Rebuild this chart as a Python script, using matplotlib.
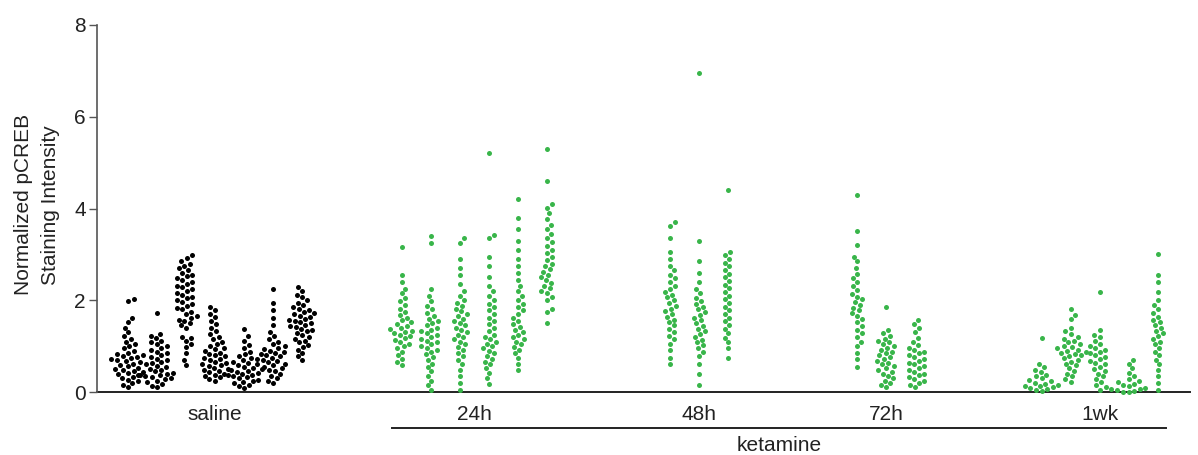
import numpy as np
import matplotlib
matplotlib.use("Agg")
import matplotlib.pyplot as plt
import matplotlib.transforms as mtransforms

plt.rcParams['font.family'] = ['Liberation Sans', 'DejaVu Sans']

# ---- data (one list per animal column) ----
groups = ['saline', '24h', '48h', '72h', '1wk']
group_label = 'ketamine'

saline = [
    [0.10, 0.15, 0.19, 0.23, 0.27, 0.30, 0.33, 0.36, 0.39, 0.42, 0.44, 0.46, 0.48, 0.50,
     0.53, 0.56, 0.59, 0.62, 0.65, 0.68, 0.70, 0.72, 0.74, 0.76, 0.78, 0.80, 0.83, 0.86, 0.90,
     0.95, 1.00, 1.05, 1.10, 1.15, 1.22, 1.30, 1.40, 1.52, 1.62, 1.98, 2.02],
    [0.10, 0.14, 0.18, 0.22, 0.25, 0.28, 0.30, 0.32, 0.34, 0.36, 0.38, 0.40, 0.42, 0.45, 0.48,
     0.51, 0.54, 0.57, 0.60, 0.63, 0.66, 0.70, 0.73, 0.76, 0.80, 0.84, 0.88, 0.92,
     0.96, 1.00, 1.04, 1.08, 1.12, 1.17, 1.22, 1.26, 1.72],
    [0.58, 0.70, 0.85, 0.98, 1.05, 1.12, 1.18, 1.20, 1.40, 1.45, 1.50, 1.55, 1.58, 1.62, 1.66, 1.70,
     1.75, 1.80, 1.84, 1.88, 1.92, 1.96, 2.00, 2.04, 2.08, 2.12, 2.16, 2.20, 2.24, 2.28, 2.32, 2.36,
     2.40, 2.44, 2.48, 2.52, 2.56, 2.60, 2.65, 2.70, 2.75, 2.80, 2.86, 2.92, 2.98],
    [0.25, 0.28, 0.32, 0.35, 0.38, 0.40, 0.43, 0.46, 0.48, 0.50, 0.53, 0.56, 0.58, 0.60, 0.63, 0.66,
     0.70, 0.72, 0.75, 0.78, 0.80, 0.83, 0.86, 0.90, 0.93, 0.96, 1.00, 1.05, 1.10, 1.15, 1.20, 1.26,
     1.32, 1.40, 1.48, 1.55, 1.63, 1.70, 1.78, 1.85],
    [0.08, 0.12, 0.16, 0.20, 0.22, 0.25, 0.27, 0.30, 0.32, 0.34, 0.36, 0.38, 0.40, 0.42, 0.44, 0.46,
     0.48, 0.50, 0.52, 0.55, 0.58, 0.60, 0.63, 0.66, 0.70, 0.74, 0.78, 0.82, 0.88, 0.95, 1.02, 1.12,
     1.22, 1.38],
    [0.20, 0.25, 0.30, 0.35, 0.40, 0.45, 0.48, 0.52, 0.55, 0.58, 0.62, 0.65, 0.68, 0.70, 0.72, 0.75,
     0.78, 0.80, 0.82, 0.85, 0.88, 0.90, 0.93, 0.96, 1.00, 1.05, 1.10, 1.15, 1.22, 1.30, 1.45, 1.62,
     1.78, 1.95, 2.25],
    [0.70, 0.78, 0.85, 0.92, 0.98, 1.02, 1.08, 1.12, 1.16, 1.20, 1.24, 1.28, 1.32, 1.35, 1.38, 1.41,
     1.44, 1.47, 1.50, 1.52, 1.55, 1.58, 1.60, 1.63, 1.66, 1.69, 1.72, 1.75, 1.78, 1.82, 1.86, 1.90,
     1.95, 2.00, 2.06, 2.12, 2.20, 2.28],
]

ket_24h = [
    [0.58, 0.65, 0.72, 0.80, 0.88, 0.95, 1.00, 1.05, 1.10, 1.14, 1.18, 1.22, 1.25, 1.28, 1.31, 1.34,
     1.37, 1.40, 1.44, 1.48, 1.52, 1.56, 1.62, 1.68, 1.75, 1.82, 1.90, 1.98, 2.05, 2.15, 2.25, 2.40,
     2.55, 3.15],
    [0.05, 0.15, 0.25, 0.35, 0.45, 0.55, 0.62, 0.70, 0.76, 0.82, 0.88, 0.92, 0.96, 1.00, 1.04, 1.08,
     1.12, 1.16, 1.20, 1.24, 1.28, 1.32, 1.36, 1.40, 1.45, 1.50, 1.55, 1.60, 1.66, 1.72, 1.80, 1.88,
     1.98, 2.10, 2.25, 3.25, 3.40],
    [0.05, 0.20, 0.35, 0.48, 0.60, 0.70, 0.78, 0.85, 0.92, 0.98, 1.04, 1.10, 1.15, 1.20, 1.25, 1.30,
     1.35, 1.40, 1.45, 1.50, 1.55, 1.60, 1.65, 1.70, 1.76, 1.82, 1.88, 1.94, 2.00, 2.10, 2.20, 2.35,
     2.55, 2.70, 2.90, 3.25, 3.35],
    [0.18, 0.30, 0.42, 0.52, 0.60, 0.66, 0.72, 0.78, 0.84, 0.90, 0.95, 1.00, 1.05, 1.10, 1.15, 1.20,
     1.25, 1.32, 1.40, 1.48, 1.55, 1.62, 1.70, 1.78, 1.85, 1.92, 2.00, 2.10, 2.20, 2.32, 2.50, 2.75,
     2.95, 3.35, 3.42, 5.22],
    [0.48, 0.62, 0.75, 0.85, 0.92, 0.98, 1.04, 1.10, 1.15, 1.20, 1.25, 1.30, 1.36, 1.42, 1.48, 1.55,
     1.62, 1.70, 1.78, 1.85, 1.92, 2.00, 2.10, 2.20, 2.32, 2.45, 2.60, 2.75, 2.90, 3.10, 3.30, 3.55,
     3.80, 4.20],
    [1.50, 1.75, 1.82, 2.00, 2.08, 2.15, 2.20, 2.26, 2.32, 2.38, 2.44, 2.50, 2.56, 2.62, 2.68, 2.74,
     2.80, 2.88, 2.95, 3.02, 3.10, 3.18, 3.26, 3.35, 3.45, 3.55, 3.65, 3.78, 3.90, 4.02, 4.10, 4.60,
     5.30],
]

ket_48h = [
    [0.60, 0.75, 0.92, 1.05, 1.15, 1.22, 1.30, 1.38, 1.45, 1.52, 1.58, 1.64, 1.70, 1.76, 1.82, 1.88,
     1.94, 2.00, 2.06, 2.12, 2.18, 2.25, 2.32, 2.40, 2.48, 2.56, 2.65, 2.75, 2.90, 3.05, 3.35, 3.62,
     3.70],
    [0.15, 0.40, 0.62, 0.78, 0.88, 0.96, 1.02, 1.08, 1.14, 1.20, 1.26, 1.32, 1.38, 1.44, 1.50, 1.56,
     1.62, 1.68, 1.74, 1.80, 1.86, 1.92, 1.98, 2.05, 2.15, 2.25, 2.40, 2.60, 2.85, 3.30, 6.95],
    [0.75, 0.95, 1.08, 1.18, 1.28, 1.38, 1.46, 1.54, 1.62, 1.70, 1.78, 1.86, 1.94, 2.02, 2.10, 2.18,
     2.26, 2.34, 2.42, 2.50, 2.58, 2.66, 2.74, 2.82, 2.90, 2.98, 3.05, 4.40],
]

ket_72h = [
    [0.55, 0.72, 0.85, 1.00, 1.10, 1.20, 1.28, 1.36, 1.44, 1.52, 1.60, 1.66, 1.72, 1.78, 1.84, 1.90,
     1.96, 2.02, 2.08, 2.14, 2.22, 2.30, 2.40, 2.48, 2.58, 2.70, 2.85, 2.95, 3.20, 3.50, 4.30],
    [0.10, 0.15, 0.20, 0.25, 0.30, 0.35, 0.40, 0.44, 0.48, 0.52, 0.56, 0.60, 0.64, 0.68, 0.72, 0.76,
     0.80, 0.84, 0.88, 0.92, 0.96, 1.00, 1.04, 1.08, 1.12, 1.16, 1.22, 1.28, 1.35, 1.85],
    [0.10, 0.15, 0.20, 0.24, 0.28, 0.32, 0.36, 0.40, 0.44, 0.48, 0.52, 0.56, 0.60, 0.64, 0.68, 0.72,
     0.76, 0.80, 0.84, 0.88, 0.92, 0.96, 1.02, 1.10, 1.18, 1.30, 1.40, 1.48, 1.58],
]

ket_1wk = [
    [0.02, 0.04, 0.06, 0.08, 0.10, 0.12, 0.14, 0.16, 0.18, 0.20, 0.23, 0.26, 0.30, 0.34,
     0.38, 0.43, 0.48, 0.54, 0.62, 1.18],
    [0.22, 0.28, 0.34, 0.40, 0.46, 0.52, 0.58, 0.62, 0.66, 0.70, 0.74, 0.78, 0.80, 0.82, 0.85, 0.88,
     0.90, 0.92, 0.95, 0.98, 1.00, 1.04, 1.08, 1.12, 1.16, 1.20, 1.26, 1.32, 1.40, 1.60, 1.68, 1.80],
    [0.05, 0.15, 0.22, 0.28, 0.34, 0.40, 0.45, 0.50, 0.55, 0.60, 0.64, 0.68, 0.72, 0.76, 0.80, 0.84,
     0.88, 0.92, 0.96, 1.00, 1.05, 1.12, 1.20, 1.25, 1.35, 2.18],
    [0.00, 0.01, 0.03, 0.04, 0.06, 0.07, 0.09, 0.11, 0.13, 0.15, 0.18, 0.21, 0.24, 0.28,
     0.34, 0.42, 0.52, 0.62, 0.70],
    [0.05, 0.20, 0.35, 0.48, 0.60, 0.70, 0.80, 0.88, 0.96, 1.04, 1.10, 1.16, 1.22, 1.28, 1.34, 1.40,
     1.46, 1.52, 1.58, 1.64, 1.72, 1.80, 1.90, 2.00, 2.18, 2.40, 2.55, 3.00],
]

all_groups = [saline, ket_24h, ket_48h, ket_72h, ket_1wk]

# ---- layout ----
GROUP_START = [0, 9.45, 18.7, 25.15, 31.5]   # column units
COLORS = ['black', '#39b54a', '#39b54a', '#39b54a', '#39b54a']
PX_X = 29.0    # pixels per column unit
PX_Y = 45.9    # pixels per y unit
DOT = 5.8      # collision distance in pixels


def swarm(values, d=DOT):
    """simple beeswarm: returns x offsets in pixels"""
    vals = np.asarray(values)
    order = np.argsort(vals)
    placed = []
    offs = np.zeros(len(vals))
    for k, i in enumerate(order):
        y = vals[i] * PX_Y
        near = [(px, py) for px, py in placed if abs(py - y) < d]
        cands = [0.0]
        for px, py in near:
            dx = np.sqrt(d * d - (py - y) ** 2)
            cands += [px - dx, px + dx]
        # alternate which side wins a tie so columns stay centred
        sgn = 1 if k % 2 else -1
        cands.sort(key=lambda c: (round(abs(c), 3), sgn * c))
        best = 0.0
        for c in cands:
            if all((c - px) ** 2 + (y - py) ** 2 >= d * d - 1e-6 for px, py in near):
                best = c
                break
        placed.append((best, y))
        offs[i] = best
    return offs


fig = plt.figure(figsize=(11.98, 4.55), dpi=100)
ax = fig.add_axes([97 / 1198, 1 - 392 / 455, 1093 / 1198, 367 / 455])

tick_pos = []
for g, cols in enumerate(all_groups):
    xs = []
    for j, col in enumerate(cols):
        x0 = GROUP_START[g] + j
        xs.append(x0)
        off = swarm(col) / PX_X
        ax.plot(x0 + off, col, 'o', ms=3.6, mew=0, color=COLORS[g], clip_on=False, zorder=3)
    tick_pos.append(np.mean(xs))

ax.set_xlim(-1.07, 36.62)
ax.set_ylim(0, 8)
ax.set_yticks([0, 2, 4, 6, 8])
ax.set_xticks(tick_pos)
ax.set_xticklabels(groups)

for s in ['top', 'right']:
    ax.spines[s].set_visible(False)
ax.spines['left'].set_color('#555555')
ax.spines['left'].set_linewidth(1.2)
ax.spines['bottom'].set_color('#222222')
ax.spines['bottom'].set_linewidth(1.4)
ax.spines['bottom'].set_zorder(1)
ax.tick_params(axis='y', length=6, width=1.0, color='#555555', labelsize=15, labelcolor='#222222', pad=2)
ax.tick_params(axis='x', length=0, labelsize=15, labelcolor='#222222', pad=9)

ax.set_ylabel('Normalized pCREB\nStaining Intensity', fontsize=15, color='#222222', linespacing=1.5)
ax.yaxis.set_label_coords(-0.034, 0.51)

# ketamine bracket under the treated groups
trans = mtransforms.blended_transform_factory(ax.transData, ax.transAxes)
x_a = GROUP_START[1] - 0.35
x_b = GROUP_START[4] + len(ket_1wk) - 1 + 0.3
ax.plot([x_a, x_b], [-0.098, -0.098], color='#222222', lw=1.4, transform=trans, clip_on=False)
ax.text((x_a + x_b) / 2, -0.147, group_label, transform=trans, ha='center', va='center',
        fontsize=15, color='#222222')

fig.savefig('out.png', dpi=100)
